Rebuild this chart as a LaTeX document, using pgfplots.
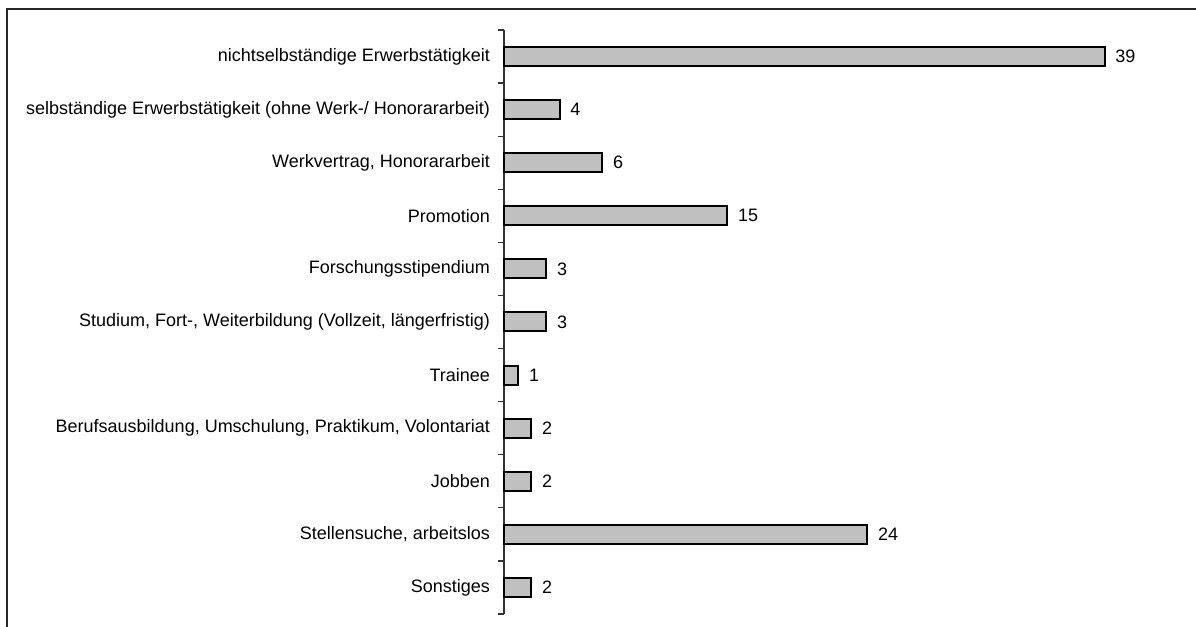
\documentclass[border=0pt]{standalone}
\usepackage{pgfplots}
\pgfplotsset{compat=1.18}
\usepackage{fontspec}
\setmainfont{Liberation Sans}

\definecolor{barfill}{RGB}{192,192,192}

\begin{document}
\begin{tikzpicture}
  % page size: 1196x627 px at 2 px per pt
  \useasboundingbox (-252pt,-6.5pt) rectangle (346pt,307pt);
  \draw[line width=0.8pt, black!85] (-248.5pt,-7pt) -- (-248.5pt,302.5pt) -- (347pt,302.5pt);

  \begin{axis}[
      at={(0,0)}, anchor=south west,
      x=7.65pt, y=26.55pt,
      xmin=0, xmax=44,
      ymin=-0.5, ymax=10.5,
      y dir=reverse,
      axis x line=none,
      axis y line*=left,
      y axis line style={line width=0.6pt, black!80},
      ytick={0,...,10},
      yticklabels={
        nichtselbständige Erwerbstätigkeit,
        selbständige Erwerbstätigkeit (ohne Werk-/ Honorararbeit),
        {Werkvertrag, Honorararbeit},
        Promotion,
        Forschungsstipendium,
        {Studium, Fort-, Weiterbildung (Vollzeit, längerfristig)},
        Trainee,
        {Berufsausbildung, Umschulung, Praktikum, Volontariat},
        Jobben,
        {Stellensuche, arbeitslos},
        Sonstiges},
      major tick length=0pt,
      minor ytick={-0.5,0.5,...,10.5},
      minor tick length=3pt,
      tick align=outside,
      ytick pos=left,
      minor tick style={line width=0.6pt, black!80},
      yticklabel style={font=\fontsize{9}{10}\selectfont, xshift=-3.5pt},
      clip=false,
    ]
    \addplot[xbar, bar width=9.5pt, fill=barfill, draw=black, line width=1pt,
      point meta=explicit,
      nodes near coords={\pgfmathprintnumber[fixed,precision=0,assume math mode=true]{\pgfplotspointmeta}},
      nodes near coords style={font=\fontsize{9}{10}\selectfont, anchor=west, xshift=1.5pt, black},
    ] table[x=v, y=c, meta=v] {
      c  v
      0  39.26
      1  3.64
      2  6.43
      3  14.6
      4  2.77
      5  2.77
      6  0.94
      7  1.79
      8  1.79
      9  23.75
      10 1.79
    };
  \end{axis}
\end{tikzpicture}
\end{document}
